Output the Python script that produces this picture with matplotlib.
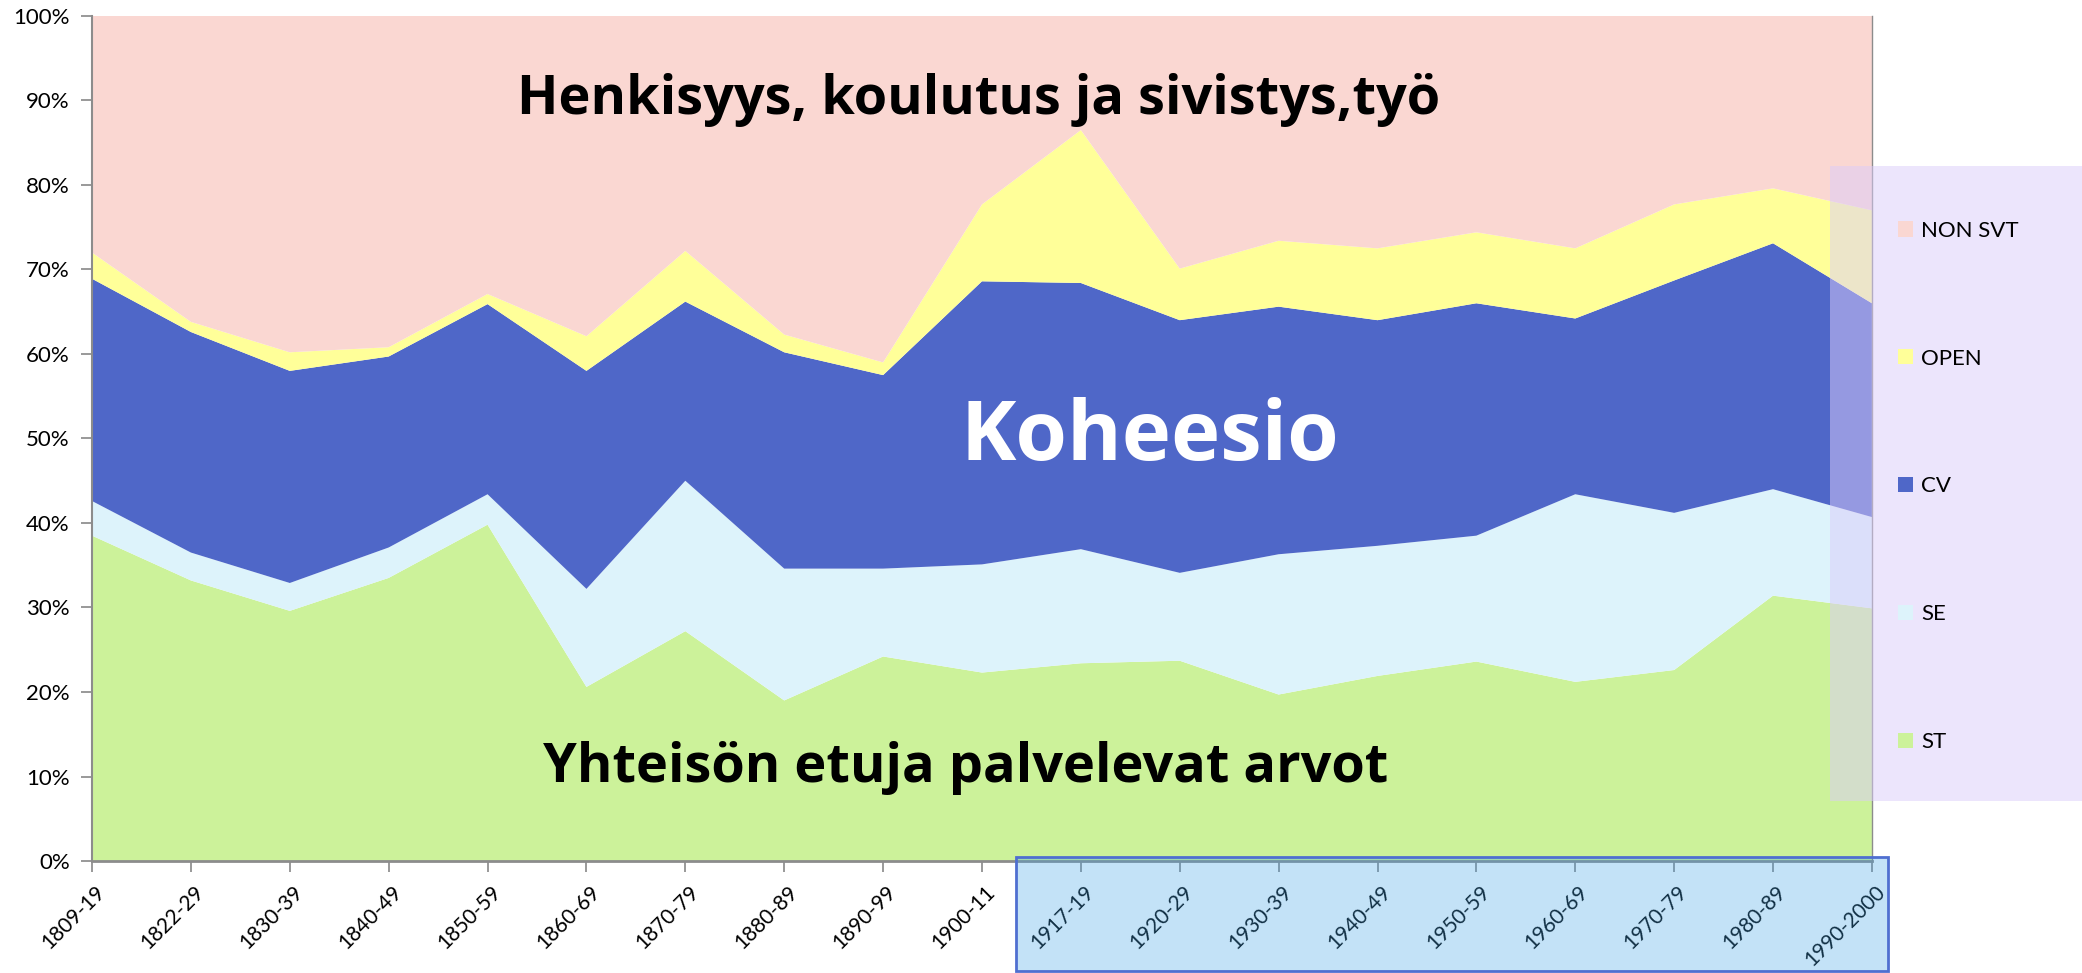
import matplotlib.pyplot as plt
import numpy as np
from matplotlib.patches import Rectangle
from matplotlib.transforms import ScaledTranslation

periods = ['1809-19', '1822-29', '1830-39', '1840-49', '1850-59', '1860-69', '1870-79',
           '1880-89', '1890-99', '1900-11', '1917-19', '1920-29', '1930-39', '1940-49',
           '1950-59', '1960-69', '1970-79', '1980-89', '1990-2000']

# shares in percent
st = [38.5, 33.2, 29.6, 33.5, 39.8, 20.6, 27.2, 19.0, 24.2, 22.3,
      23.4, 23.7, 19.7, 21.9, 23.6, 21.2, 22.6, 31.4, 29.9]
se = [4.1, 3.3, 3.3, 3.6, 3.6, 11.6, 17.8, 15.6, 10.4, 12.8,
      13.5, 10.4, 16.6, 15.4, 14.9, 22.2, 18.6, 12.6, 10.8]
cv = [26.3, 26.1, 25.1, 22.6, 22.5, 25.8, 21.2, 25.6, 22.9, 33.5,
      31.5, 29.9, 29.3, 26.7, 27.5, 20.8, 27.5, 29.1, 25.3]
open_ = [3.1, 1.2, 2.2, 1.1, 1.2, 4.1, 6.0, 2.1, 1.5, 9.1,
         18.1, 6.1, 7.8, 8.5, 8.4, 8.3, 9.0, 6.5, 11.0]
non_svt = [100 - a - b - c - d for a, b, c, d in zip(st, se, cv, open_)]

labels = ['ST', 'SE', 'CV', 'OPEN', 'NON SVT']
colors = ['#CCF29A', '#DDF3FB', '#4F67C8', '#FFFF99', '#FAD7D2']

fig = plt.figure(figsize=(20.82, 9.73), dpi=100)
ax = fig.add_axes([0.0442, 0.1151, 0.8549, 0.8685])

x = np.arange(len(periods))
polys = ax.stackplot(x, st, se, cv, open_, non_svt, labels=labels, colors=colors, linewidth=0)

ax.set_xlim(0, len(periods) - 1)
ax.set_ylim(0, 100)
ax.set_yticks(np.arange(0, 101, 10))
ax.set_yticklabels([f'{v}%' for v in range(0, 101, 10)], fontsize=16, family='Lato')
ax.set_xticks(x)
ax.set_xticklabels(periods, rotation=45, ha='right', va='center', rotation_mode='anchor',
                   fontsize=15, family='Lato')
ax.tick_params(axis='both', colors='#888888', length=8, width=1.2, labelcolor='black')
ax.tick_params(axis='x', pad=12)
ax.tick_params(axis='y', pad=8)
shift = ScaledTranslation(10 / 100, 0, fig.dpi_scale_trans)
for lbl in ax.get_xticklabels():
    lbl.set_transform(lbl.get_transform() + shift)

ax.spines['top'].set_visible(False)
for s in ['left', 'bottom', 'right']:
    ax.spines[s].set_color('#8c8c8c')
ax.spines['bottom'].set_linewidth(2)
ax.spines['left'].set_linewidth(1.5)
ax.spines['right'].set_linewidth(1)

# big labels on the areas
ax.text(8.97, 90, 'Henkisyys, koulutus ja sivistys,työ', ha='center', va='center',
        fontsize=39, fontweight='bold', family='Open Sans', color='black')
ax.text(10.7, 50, 'Koheesio', ha='center', va='center',
        fontsize=60, fontweight='bold', family='Open Sans', color='white')
ax.text(8.83, 11, 'Yhteisön etuja palvelevat arvot', ha='center', va='center',
        fontsize=39, fontweight='bold', family='Open Sans', color='black')

# highlight box around later periods
fig.patches.append(Rectangle((0.488, 0.002), 0.4188, 0.117, transform=fig.transFigure,
                             facecolor=(0.23, 0.63, 0.9), alpha=0.3, edgecolor='none', zorder=10))
fig.patches.append(Rectangle((0.488, 0.002), 0.4188, 0.117, transform=fig.transFigure,
                             facecolor='none', edgecolor='#4F6FD0', linewidth=2, zorder=11))

# legend background
fig.patches.append(Rectangle((0.879, 0.1768), 0.121, 0.6526, transform=fig.transFigure,
                             facecolor=(0.86, 0.80, 0.98), alpha=0.5, edgecolor='none', zorder=10))

handles = polys[::-1]
leg = fig.legend(handles, labels[::-1], loc='upper left', bbox_to_anchor=(0.9116, 0.773),
                 frameon=False, prop={'family': 'Lato', 'size': 16},
                 handlelength=0.68, handleheight=0.68, handletextpad=0.35,
                 labelspacing=4.85, borderpad=0, borderaxespad=0)
leg.set_zorder(20)

plt.savefig('out.png', dpi=100)
